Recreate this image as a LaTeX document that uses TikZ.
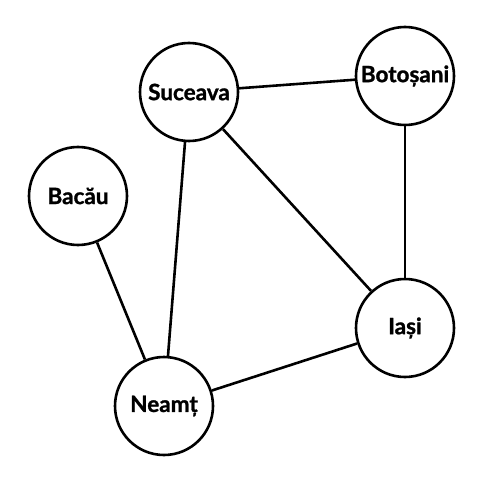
\documentclass[tikz,border=0pt]{standalone}
\usepackage{fontspec}
\setmainfont{Lato}[UprightFont=* Bold,UprightFeatures={FakeBold=1.2}]
\begin{document}
\begin{tikzpicture}[x=1pt,y=-1pt,
  city/.style={circle,draw=black,line width=2.6pt,fill=white,minimum size=98pt,inner sep=0pt,font=\fontsize{22.5}{26}\selectfont},
  road/.style={line width=2.6pt}]
\useasboundingbox (0,0) rectangle (477,481);
\node[city] (suc) at (189,92) {Suceava};
\node[city] (bot) at (405,76) {Botoșani};
\node[city] (bac) at (78,196) {Bacău};
\node[city] (nea) at (164,406) {Neamț};
\node[city] (ias) at (405,328) {Iași};
\draw[road] (suc) -- (bot);
\draw[road] (suc) -- (nea);
\draw[road] (suc) -- (ias);
\draw[road] (bot) -- (ias);
\draw[road] (bac) -- (nea);
\draw[road] (nea) -- (ias);
\end{tikzpicture}
\end{document}
